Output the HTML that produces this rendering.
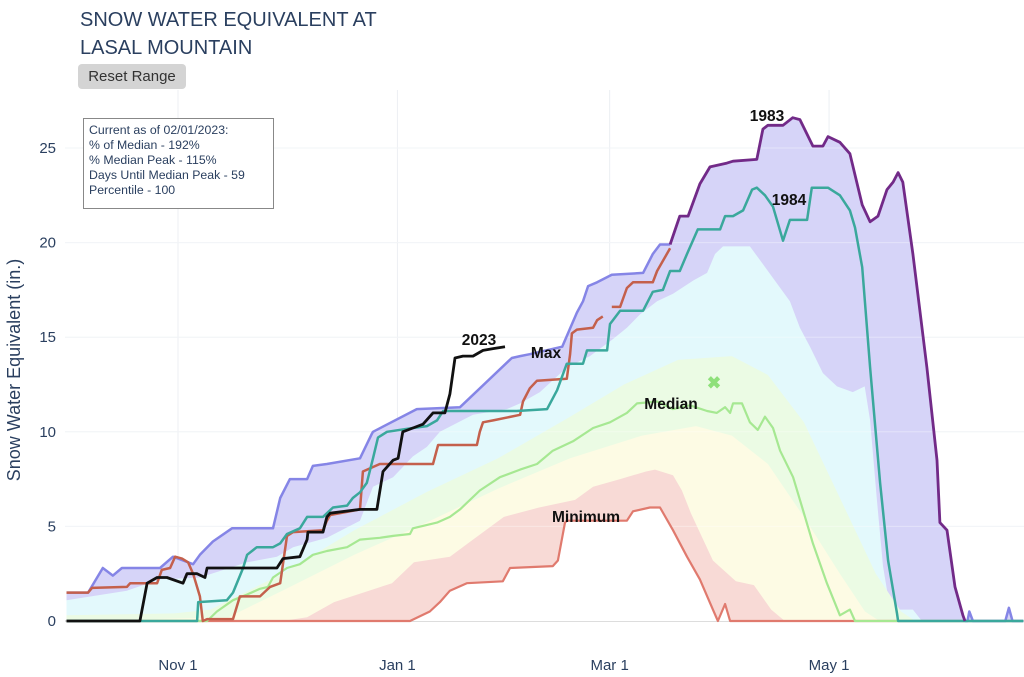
<!DOCTYPE html>
<html><head><meta charset="utf-8"><style>
body{margin:0;background:#fff;width:1024px;height:677px;overflow:hidden;font-family:"Liberation Sans",sans-serif}
#t{position:absolute;left:80px;top:6px;font-size:20px;line-height:28px;color:#2a3f5f}
#rb{position:absolute;left:78px;top:64px;width:108px;height:25px;background:#d4d4d4;border-radius:4px;font-size:15px;color:#333;text-align:center;line-height:25px}
#info{position:absolute;left:83px;top:118px;width:182px;height:82px;border:1px solid #888;background:#fff;font-size:12.3px;line-height:15px;color:#2a3f5f;padding:4px 0 0 5px;box-sizing:border-box;width:191px;height:91px}
</style></head><body>
<div id="t">SNOW WATER EQUIVALENT AT<br>LASAL MOUNTAIN</div>
<div id="rb">Reset Range</div>
<svg id="c" width="1024" height="677" style="position:absolute;left:0;top:0"></svg>
<div id="info">Current as of 02/01/2023:<br>% of Median - 192%<br>% Median Peak - 115%<br>Days Until Median Peak - 59<br>Percentile - 100</div>
<script>
// day index from Oct 1
const xTickDays=[31,92,151,212];
const xTickLabels=["Nov 1","Jan 1","Mar 1","May 1"];
const yTicks=[0,5,10,15,20,25];
const maxDays=[0,6,10.1,12.9,15.4,26,29.6,35.2,37.1,40.7,46,57.4,59.4,62.1,66.9,68.5,72.4,81.6,84.9,85.2,97.4,109.4,123.8,126.1,128.8,137.8,141.9,143.6,145,147.5,151.6,160.3,163,165,167.8];
const maxVals=[1.5,1.5,2.8,2.4,2.8,2.8,3.4,3.0,3.5,4.2,4.9,4.9,6.5,7.5,7.5,8.2,8.3,8.6,9.9,10.0,11.2,11.3,13.9,14.0,14.1,14.5,16.3,16.9,17.7,17.9,18.3,18.4,19.4,19.9,19.9];
const maxTailDays=[249.8,250.5,251,252,261,262,263,266];
const maxTailVals=[0,0,0.5,0,0,0.7,0,0];
const y1983Days=[167.8,170.5,172.8,176.1,178.9,183.6,185.3,191.9,193.6,195,199.2,201.9,203.9,207.5,210.3,211.7,215,217.8,221.2,223.4,225.6,228.1,229.8,231.2,232.5,235.3,239.2,242,242.8,244.8,247,249.2,249.8];
const y1983Vals=[19.9,21.4,21.4,23.1,24.0,24.2,24.3,24.4,26.0,26.2,26.2,26.6,26.5,25.1,25.1,25.6,25.3,24.7,22.0,21.1,21.4,22.8,23.2,23.7,23.2,19.4,13.4,8.5,5.2,4.8,1.8,0.3,0];
const y2023Days=[0,20.4,22.4,25.2,27.9,32.4,33.5,36.3,38.5,39.1,58.5,60.2,64.9,66.9,67.1,71.3,72.4,73.3,81.6,86.3,88,90.8,92.2,93.5,96.3,99.1,101.9,105.2,106.6,108,110.2,113,115.8,118.6,121.9];
const y2023Vals=[0,0,2.0,2.3,2.3,2.0,2.5,2.5,2.3,2.8,2.8,3.3,3.4,4.3,4.7,4.7,5.5,5.7,5.9,5.9,7.9,8.5,8.6,10.0,10.2,10.4,11.0,11.0,12.0,13.9,14.0,14.0,14.3,14.4,14.5];
const y1984Days=[0,36.3,36.6,44.6,46.3,49.1,50.2,52.9,57.4,59.4,61.3,64.9,66.9,71.3,74.1,78,79.6,81.6,83.5,85.2,86.6,89.1,96.3,100.2,103,104.7,125.2,133.6,136.4,139.1,143.6,144.7,150.3,151.1,151.9,153.9,160.3,163,165.8,167.8,170.5,172.5,175.5,181.7,183.1,185.3,188.1,190.6,191.9,194.2,196.4,199.2,201.1,205.9,207.2,211.7,215,217.8,219.2,221.2,223.4,226.2,228.4,230.9,231.2,266];
const y1984Vals=[0,0,1.0,1.1,1.5,2.8,3.5,3.9,3.9,4.1,4.6,4.9,5.5,5.5,6.0,6.1,6.5,6.8,7.3,8.6,9.7,10.0,10.2,10.3,10.6,11.1,11.1,11.2,12.2,13.6,13.6,14.3,14.3,15.7,15.9,16.4,16.4,17.4,17.5,18.5,18.5,19.4,20.7,20.7,21.4,21.4,21.7,22.8,22.9,22.5,21.9,20.1,21.2,21.2,22.9,22.9,22.5,21.7,20.8,18.7,13.4,7.3,3.2,0.4,0,0];
const redDays=[0,6,7.1,16.8,17.7,25.2,26.5,28.8,30.2,32.1,33.8,35.2,37.1,37.9,39.1,46.3,48.2,53.8,56.6,59.4,61.3,63,71.3,72.4,73.3,81.6,82.4,87.1,101.9,103.3,114.1,114.9,115.8,118.6,126.1,126.9,128.8,130.8,139.1,140,140.5,141.9,146.4,147.5,149.1,null,151.6,153.9,155.8,157.5,163,164.2,167.8];
const redVals=[1.5,1.5,1.75,1.8,2.0,2.0,2.7,2.8,3.4,3.3,3.1,2.5,1.3,0,0.1,0.1,1.3,1.3,1.8,2.0,4.5,4.7,4.8,5.3,5.6,5.9,7.9,8.3,8.3,9.3,9.3,10.0,10.5,10.6,10.9,11.6,12.3,12.7,12.8,14.1,15.2,15.4,15.5,15.9,16.1,null,16.6,16.6,17.6,17.9,17.9,18.5,19.7];
const medDays=[0,39.1,41.8,46.3,50.2,53.8,56,57.4,61.3,64.9,68.5,72.4,78,81.6,87.1,90.8,95.5,96.3,103,106.6,109.4,114.9,120.5,126.1,130.8,135.2,140.8,146.4,151.1,155.8,158.6,164.2,168.6,173.3,178.1,180.8,183.1,184.5,185.3,187.8,190,192.2,194.2,196.4,198.4,202,204.7,207.5,211.4,215,217.8,219.2,266];
const medVals=[0,0,0.5,1.1,1.4,1.7,1.8,2.3,2.8,3.0,3.5,3.7,3.9,4.3,4.4,4.5,4.6,4.9,5.2,5.5,5.9,6.9,7.6,8.0,8.3,9.0,9.5,10.2,10.5,11.0,11.5,11.6,11.2,11.4,11.1,11.0,11.3,11.0,11.5,11.5,10.5,10.1,10.8,10.2,9.0,7.6,5.9,4.1,2.0,0.3,0.6,0,0];
const minDays=[0,95.5,101,103.8,106.6,111.3,121.3,123.3,135.2,136.6,138.6,139.1,155.8,157.5,162.2,165,168.6,172.5,176.1,179.7,181.1,183.1,184.5,266];
const minVals=[0,0,0.5,1.0,1.6,2.0,2.1,2.8,2.9,3.2,5.2,5.3,5.3,5.8,6.0,6.0,4.8,3.4,2.2,0.6,0,0.9,0,0];
const p90Days=[0,16.8,26,37.1,50.2,58.5,63,72.4,81.6,85.2,90.8,96.3,100.2,103.8,113,122.4,126.1,131.6,139.1,145.5,151.9,155.8,159.4,164.2,168.6,174.3,178.1,180.3,182.5,190,191.9,195,201.1,203.9,206.7,210.3,214.2,218.6,221.9,223.4,225.3,227,229,235.3,237.8,266];
const p90Vals=[1.1,1.6,2.2,2.3,3.1,3.4,3.9,4.4,5.3,7.1,7.6,8.7,9.2,10.0,10.9,11.2,11.5,12.1,13.4,14.0,14.9,15.5,16.2,16.9,17.3,18.0,18.4,19.4,19.8,19.8,19.3,18.5,16.9,15.5,14.5,13.1,12.4,12.1,12.4,10.6,6.4,2.9,0.6,0.6,0,0];
const p70Days=[0,30,40,60,80,100,120,140,155,170,185,195,205,215,225,232,236,266];
const p70Vals=[0.3,0.4,0.6,2.5,4.8,6.8,8.6,10.8,12.5,13.8,14.0,13.0,10.5,6.5,2.5,0.5,0,0];
const p50Days=[0,45,60,80,100,120,140,160,175,185,195,205,215,222,226,266];
const p50Vals=[0,0.2,1.6,3.5,5.2,7.0,8.6,9.8,10.3,9.8,8.3,5.5,2.5,0.5,0,0];
const p10Days=[0,60,66.9,74.4,90.5,96.6,106.6,111.6,121.6,131.4,141.4,146.4,153.9,161.1,163.6,168.6,171.1,173.6,179.7,186.1,191.1,195.9,199.7,266];
const p10Vals=[0,0,0.2,1.0,2.0,3.1,3.4,4.1,5.5,6.0,6.4,7.1,7.5,7.9,8.0,7.7,6.9,5.7,3.2,2.1,1.9,0.6,0,0];
const peakDay=[180], peakVal=[12.6];

const svg=document.getElementById('c');const NS='http://www.w3.org/2000/svg';
const X=d=>66.5+3.597*d, Y=v=>621-18.92*v;
function el(t,a,p){const e=document.createElementNS(NS,t);for(const k in a)e.setAttribute(k,a[k]);(p||svg).appendChild(e);return e;}
// grid
yTicks.forEach(v=>{const l=el('line',{x1:65,x2:1024,y1:Y(v),y2:Y(v),stroke:v===0?'#ddd':'#eceff3','stroke-width':v===0?2:1});


const t=el('text',{x:56,y:Y(v)+5,'text-anchor':'end','font-size':15,fill:'#2a3f5f'});t.textContent=v;

});
xTickDays.forEach((d,i)=>{const l=el('line',{x1:X(d),x2:X(d),y1:90,y2:621,stroke:'#eceff3'});


const t=el('text',{x:X(d),y:670,'text-anchor':'middle','font-size':15,fill:'#2a3f5f'});t.textContent=xTickLabels[i];

});
function pts(D,V){return D.map((d,i)=>d===null?null:X(d).toFixed(1)+','+Y(V[i]).toFixed(1));}
function area(D,V,fill,name){const p=pts(D,V).filter(s=>s);const a=el('polygon',{points:X(D[0])+','+Y(0)+' '+p.join(' ')+' '+X(D[D.length-1])+','+Y(0),fill:fill});

}
function line(D,V,col,w,name){const p=pts(D,V);let segs=[[]];p.forEach(s=>{if(s===null)segs.push([]);else segs[segs.length-1].push(s);});
segs.forEach(sg=>{const l=el('polyline',{points:sg.join(' '),fill:'none',stroke:col,'stroke-width':w,'stroke-linejoin':'round'});

});}
const bandD=maxDays.concat(y1983Days.slice(1),maxTailDays), bandV=maxVals.concat(y1983Vals.slice(1),maxTailVals);
area(bandD,bandV,'#d6d4f8','max-band');
area(p90Days,p90Vals,'#e3f9fc','p90-band');
area(p70Days,p70Vals,'#ebfbe4','p70-band');
area(p50Days,p50Vals,'#fdfbe4','p50-band');
area(p10Days,p10Vals,'#f8dad6','p10-band');
area(minDays,minVals,'#ffffff','min-fill');
yTicks.slice(1).forEach(v=>{const l=el('line',{x1:65,x2:1024,y1:Y(v),y2:Y(v),stroke:'#fff','stroke-opacity':0.35});

});
line(minDays,minVals,'#e07a6e',2.2,'minimum-line');
line(medDays,medVals,'#a6e892',2.2,'median-line');
line(maxDays,maxVals,'#8585e6',2.5,'max-line');
line(maxTailDays,maxTailVals,'#8585e6',2.5,'max-line-tail');
line(redDays,redVals,'#c4604c',2.5,'year-line-red');
line(y1984Days,y1984Vals,'#3aa89c',2.5,'year-1984-line');
line(y1983Days,y1983Vals,'#722a88',2.8,'year-1983-line');
line(y2023Days,y2023Vals,'#111',2.8,'year-2023-line');
const pk=el('text',{x:X(peakDay[0]),y:Y(peakVal[0])+6,'text-anchor':'middle','font-size':17,'font-weight':'bold',fill:'#8ee07a'});pk.textContent='✖';


[['1983',767,121],['1984',789,205],['2023',479,345],['Max',546,358],['Median',671,409],['Minimum',586,522]].forEach(a=>{
const t=el('text',{x:a[1],y:a[2],'text-anchor':'middle','font-size':15.5,'font-weight':'bold',fill:'#111'});t.textContent=a[0];

});
const yt=el('text',{x:0,y:0,transform:'translate(20,370) rotate(-90)','text-anchor':'middle','font-size':18,fill:'#2a3f5f'});yt.textContent='Snow Water Equivalent (in.)';


</script>
</body></html>
